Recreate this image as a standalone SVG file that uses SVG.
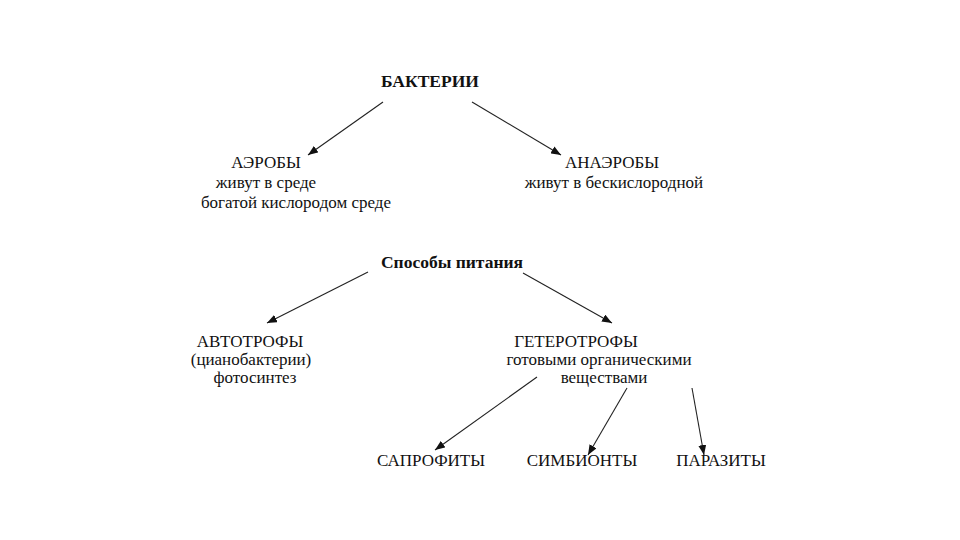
<svg xmlns="http://www.w3.org/2000/svg" width="960" height="540" viewBox="0 0 960 540">
<style>
text{font-family:"Liberation Serif","Times New Roman",serif;font-size:17px;fill:#111;text-anchor:middle}
.b{font-weight:bold;font-size:17.5px}
.c line{stroke:#222;stroke-width:1.1}
</style>
<defs>
<marker id="ah" viewBox="0 0 10 8" refX="10" refY="4" markerWidth="10" markerHeight="8" markerUnits="userSpaceOnUse" orient="auto">
<path d="M0,0 L10,4 L0,8 z" fill="#111"/>
</marker>
</defs>
<rect width="960" height="540" fill="#fff"/>
<g id="bacteria"><text class="b" x="430" y="87">БАКТЕРИИ</text></g>
<g id="aerobes">
<text x="266" y="168">АЭРОБЫ</text>
<text x="266" y="188">живут в среде</text>
<text x="296" y="208">богатой кислородом среде</text>
</g>
<g id="anaerobes">
<text x="612" y="168">АНАЭРОБЫ</text>
<text x="614" y="188">живут в бескислородной</text>
</g>
<g id="nutrition"><text class="b" x="452" y="268">Способы питания</text></g>
<g id="autotrophs">
<text x="250" y="347">АВТОТРОФЫ</text>
<text x="251" y="365">(цианобактерии)</text>
<text x="255" y="383">фотосинтез</text>
</g>
<g id="heterotrophs">
<text x="576" y="347">ГЕТЕРОТРОФЫ</text>
<text x="599" y="365">готовыми органическими</text>
<text x="604" y="383">веществами</text>
</g>
<g id="saprophytes"><text x="431" y="466">САПРОФИТЫ</text></g>
<g id="symbionts"><text x="582" y="466">СИМБИОНТЫ</text></g>
<g id="parasites"><text x="721" y="466">ПАРАЗИТЫ</text></g>
<g id="connectors" class="c">
<line x1="383" y1="102" x2="308" y2="155" marker-end="url(#ah)"/>
<line x1="472" y1="102" x2="561" y2="155" marker-end="url(#ah)"/>
<line x1="368" y1="272" x2="267" y2="323" marker-end="url(#ah)"/>
<line x1="523" y1="273" x2="612" y2="323" marker-end="url(#ah)"/>
<line x1="537" y1="377" x2="435" y2="450" marker-end="url(#ah)"/>
<line x1="627" y1="388" x2="588" y2="455" marker-end="url(#ah)"/>
<line x1="692" y1="388" x2="704" y2="455" marker-end="url(#ah)"/>
</g>
</svg>
